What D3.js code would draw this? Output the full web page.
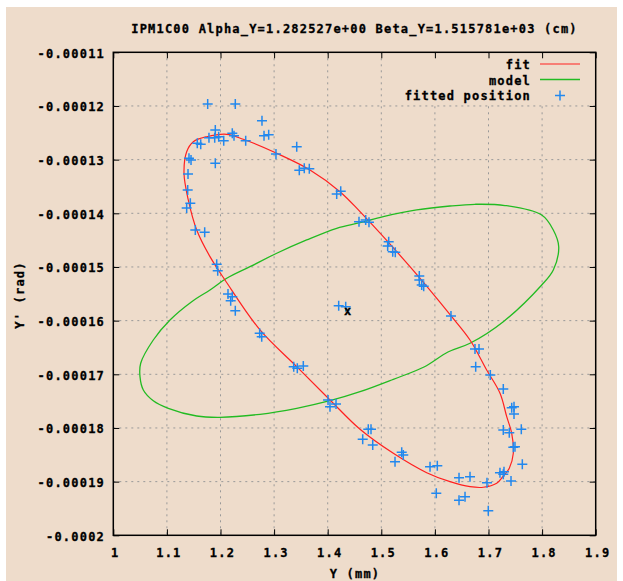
<!DOCTYPE html>
<html>
<head>
<meta charset="utf-8">
<script src="https://cdn.jsdelivr.net/npm/d3@7/dist/d3.min.js"></script>
<style>
  body { margin: 0; background: #fff; }
  text { font-family: "DejaVu Sans Mono", monospace; font-weight: bold; font-size: 12px; letter-spacing: 1.2px; fill: #000; stroke: #000; stroke-width: 0.3px; }
  .grid line { stroke: #999; stroke-width: 1; stroke-dasharray: 2,4; }
  .ticks line { stroke: #000; stroke-width: 1; }
</style>
</head>
<body>
<div id="chart"></div>
<script>
// tick values and labels
const xTicks = [1, 1.1, 1.2, 1.3, 1.4, 1.5, 1.6, 1.7, 1.8, 1.9];
const xTickLabels = ["1", "1.1", "1.2", "1.3", "1.4", "1.5", "1.6", "1.7", "1.8", "1.9"];
const yTicks = [-0.0002, -0.00019, -0.00018, -0.00017, -0.00016, -0.00015, -0.00014, -0.00013, -0.00012, -0.00011];
const yTickLabels = ["-0.0002", "-0.00019", "-0.00018", "-0.00017", "-0.00016", "-0.00015", "-0.00014", "-0.00013", "-0.00012", "-0.00011"];

const title = "IPM1C00 Alpha_Y=1.282527e+00 Beta_Y=1.515781e+03 (cm)";
const legendLabels = ["fit", "model", "fitted position"];

// fit ellipse [Y (mm), Y' (rad)]
const fitCurve = [
  [1.1319, -1.3249e-4], [1.1369, -1.2852e-4], [1.1493, -1.2666e-4], [1.1743, -1.2573e-4],
  [1.2116, -1.2528e-4], [1.2425, -1.2621e-4], [1.3049, -1.2882e-4], [1.3670, -1.3193e-4],
  [1.4229, -1.3597e-4], [1.4603, -1.3970e-4], [1.5535, -1.4995e-4], [1.6313, -1.5926e-4],
  [1.6655, -1.6361e-4], [1.6966, -1.6920e-4], [1.7215, -1.7354e-4], [1.7340, -1.7790e-4],
  [1.7433, -1.8099e-4], [1.7463, -1.8472e-4], [1.7388, -1.8751e-4], [1.7271, -1.8904e-4],
  [1.7153, -1.9031e-4], [1.6903, -1.9105e-4], [1.6655, -1.9094e-4], [1.6282, -1.9001e-4],
  [1.5847, -1.8833e-4], [1.5224, -1.8472e-4], [1.4603, -1.8024e-4], [1.4043, -1.7478e-4],
  [1.3422, -1.6858e-4], [1.2737, -1.6174e-4], [1.2084, -1.5243e-4], [1.1804, -1.4808e-4],
  [1.1556, -1.4311e-4], [1.1399, -1.3752e-4]
];

// model ellipse
const modelCurve = [
  [1.4603, -1.4175e-4], [1.5037, -1.4063e-4], [1.5660, -1.3938e-4], [1.6282, -1.3864e-4],
  [1.6748, -1.3832e-4], [1.7308, -1.3855e-4], [1.7993, -1.4032e-4], [1.8209, -1.4311e-4],
  [1.8310, -1.4622e-4], [1.8209, -1.5056e-4], [1.7993, -1.5336e-4], [1.7276, -1.6020e-4],
  [1.6655, -1.6422e-4], [1.6244, -1.6584e-4], [1.5797, -1.6864e-4], [1.5224, -1.7093e-4],
  [1.4603, -1.7324e-4], [1.4043, -1.7492e-4], [1.3422, -1.7633e-4], [1.2737, -1.7745e-4],
  [1.1991, -1.7801e-4], [1.1556, -1.7777e-4], [1.1026, -1.7633e-4], [1.0746, -1.7492e-4],
  [1.0560, -1.7292e-4], [1.0498, -1.7044e-4], [1.0511, -1.6795e-4], [1.0746, -1.6361e-4],
  [1.1058, -1.5988e-4], [1.1463, -1.5647e-4], [1.1804, -1.5429e-4], [1.2116, -1.5211e-4],
  [1.2550, -1.4995e-4], [1.3049, -1.4745e-4], [1.3608, -1.4497e-4], [1.4168, -1.4279e-4]
];

// fitted positions
const posY = [
  1.1761, 1.2276, 1.2774, 1.1903, 1.2220, 1.2252, 1.1785, 1.1892, 1.1966, 1.2060,
  1.2812, 1.2899, 1.2470, 1.1567, 1.1631, 1.3422, 1.3035, 1.1412, 1.1450, 1.1903,
  1.3470, 1.3563, 1.3657, 1.1394, 1.4168, 1.4243, 1.1388, 1.1437, 1.1369, 1.1530,
  1.1705, 1.1929, 1.1948, 1.4584, 1.4709, 1.4770, 1.5138, 1.5119, 1.5213, 1.5261,
  1.5709, 1.5709, 1.5754, 1.5791, 1.6300, 1.6748, 1.6823, 1.6761, 1.7034, 1.7276,
  1.7433, 1.7476, 1.7476, 1.7276, 1.7388, 1.7612, 1.7463, 1.7494, 1.7631, 1.7214,
  1.7289, 1.7276, 1.7420, 1.6972, 1.6996, 1.6655, 1.6450, 1.6562, 1.6450, 1.6026,
  1.5909, 1.6045, 1.5381, 1.5410, 1.5256, 1.4757, 1.4808, 1.4653, 1.4840, 1.2140,
  1.2220, 1.2190, 1.2276, 1.2731, 1.2769, 1.3366, 1.3433, 1.3545, 1.4006, 1.4043,
  1.4155, 1.4205, 1.4336
];
const posYp = [
  -1.1963e-4, -1.1963e-4, -1.2274e-4, -1.2448e-4, -1.2509e-4, -1.2554e-4, -1.2591e-4, -1.2591e-4, -1.2573e-4, -1.2647e-4,
  -1.2554e-4, -1.2535e-4, -1.2647e-4, -1.2696e-4, -1.2714e-4, -1.2759e-4, -1.2895e-4, -1.2975e-4, -1.3007e-4, -1.3068e-4,
  -1.3199e-4, -1.3161e-4, -1.3169e-4, -1.3268e-4, -1.3640e-4, -1.3590e-4, -1.3566e-4, -1.3813e-4, -1.3901e-4, -1.4311e-4,
  -1.4354e-4, -1.4950e-4, -1.5069e-4, -1.4156e-4, -1.4125e-4, -1.4168e-4, -1.4529e-4, -1.4609e-4, -1.4715e-4, -1.4727e-4,
  -1.5168e-4, -1.5243e-4, -1.5336e-4, -1.5360e-4, -1.5913e-4, -1.6528e-4, -1.6528e-4, -1.6858e-4, -1.7013e-4, -1.7274e-4,
  -1.7622e-4, -1.7603e-4, -1.7739e-4, -1.8037e-4, -1.8088e-4, -1.8024e-4, -1.8360e-4, -1.8349e-4, -1.8677e-4, -1.8833e-4,
  -1.8814e-4, -1.8863e-4, -1.8988e-4, -1.9019e-4, -1.9541e-4, -1.8908e-4, -1.8926e-4, -1.9280e-4, -1.9347e-4, -1.9217e-4,
  -1.8721e-4, -1.8703e-4, -1.8453e-4, -1.8503e-4, -1.8628e-4, -1.8024e-4, -1.8024e-4, -1.8211e-4, -1.8317e-4, -1.5503e-4,
  -1.5554e-4, -1.5628e-4, -1.5815e-4, -1.6236e-4, -1.6299e-4, -1.6858e-4, -1.6888e-4, -1.6845e-4, -1.7478e-4, -1.7603e-4,
  -1.7553e-4, -1.5721e-4, -1.5740e-4
];

// beam centre marker
const centre = [1.4373, -1.5826e-4];

const W = 623, H = 581;
const bg = "#eedccb";
const pLeft = 113.3, pRight = 595.7, pTop = 52.3, pBottom = 535.3;

const svg = d3.select("#chart").append("svg")
  .attr("width", W).attr("height", H);

svg.append("rect")
  .attr("x", 6).attr("y", 7).attr("width", 611).attr("height", H - 7)
  .attr("fill", bg);

const x = d3.scaleLinear().domain([1, 1.9]).range([pLeft, pRight]);
const y = d3.scaleLinear().domain([-0.0002, -0.00011]).range([pBottom, pTop]);

// grid
const grid = svg.append("g").attr("class", "grid");
grid.selectAll(".gx").data(xTicks.slice(1, -1)).enter().append("line")
  .attr("x1", d => x(d)).attr("x2", d => x(d))
  .attr("y1", pTop).attr("y2", pBottom);
grid.selectAll(".gy").data(yTicks.slice(1, -1)).enter().append("line")
  .attr("x1", pLeft).attr("x2", pRight)
  .attr("y1", d => y(d)).attr("y2", d => y(d));

// opaque key box
svg.append("rect")
  .attr("x", 400).attr("y", pTop + 1).attr("width", pRight - 401).attr("height", 51)
  .attr("fill", bg);

// curves
const closed = d3.line().x(d => x(d[0])).y(d => y(d[1])).curve(d3.curveCatmullRomClosed);

svg.append("path").attr("d", closed(modelCurve))
  .attr("fill", "none").attr("stroke", "#22bb22").attr("stroke-width", 1.3);
svg.append("path").attr("d", closed(fitCurve))
  .attr("fill", "none").attr("stroke", "#ff2020").attr("stroke-width", 1.2);

// points
const plus = "M-5,0H5M0,-5V5";
svg.append("g").selectAll("path").data(d3.range(posY.length)).enter().append("path")
  .attr("transform", i => `translate(${x(posY[i])},${y(posYp[i])})`)
  .attr("d", plus)
  .attr("stroke", "#2288ee").attr("stroke-width", 1.5).attr("fill", "none");

svg.append("text")
  .attr("x", x(centre[0])).attr("y", y(centre[1]) + 4)
  .attr("text-anchor", "middle")
  .style("letter-spacing", "0px")
  .text("x");

// frame
svg.append("rect")
  .attr("x", pLeft).attr("y", pTop).attr("width", pRight - pLeft).attr("height", pBottom - pTop)
  .attr("fill", "none").attr("stroke", "#000").attr("stroke-width", 1.5);

// inward ticks on all four sides
const tk = 6;
function ticks(g) { g.select(".domain").remove(); g.attr("class", "ticks"); }
svg.append("g").attr("transform", `translate(0,${pBottom})`)
  .call(d3.axisBottom(x).tickValues(xTicks).tickSize(-tk).tickFormat("")).call(ticks);
svg.append("g").attr("transform", `translate(0,${pTop})`)
  .call(d3.axisTop(x).tickValues(xTicks).tickSize(-tk).tickFormat("")).call(ticks);
svg.append("g").attr("transform", `translate(${pLeft},0)`)
  .call(d3.axisLeft(y).tickValues(yTicks).tickSize(-tk).tickFormat("")).call(ticks);
svg.append("g").attr("transform", `translate(${pRight},0)`)
  .call(d3.axisRight(y).tickValues(yTicks).tickSize(-tk).tickFormat("")).call(ticks);

// tick labels
svg.append("g").selectAll("text").data(xTicks).enter().append("text")
  .attr("x", d => x(d) + 2).attr("y", pBottom + 21.5)
  .attr("text-anchor", "middle")
  .text((d, i) => xTickLabels[i]);
svg.append("g").selectAll("text").data(yTicks).enter().append("text")
  .attr("x", 105).attr("y", d => y(d) + 5.3)
  .attr("text-anchor", "end")
  .text((d, i) => yTickLabels[i]);

// titles
svg.append("text").attr("x", 354.5).attr("y", 33).attr("text-anchor", "middle").text(title);
svg.append("text").attr("x", 355).attr("y", 578).attr("text-anchor", "middle").text("Y (mm)");
svg.append("text")
  .attr("transform", "translate(24,295) rotate(-90)")
  .attr("text-anchor", "middle").text("Y' (rad)");

// key
const key = svg.append("g");
const keyY = [69, 84.5, 100];
key.selectAll("text").data(legendLabels).enter().append("text")
  .attr("x", 531).attr("y", (d, i) => keyY[i])
  .attr("text-anchor", "end").text(d => d);
key.append("line").attr("x1", 540).attr("x2", 580).attr("y1", keyY[0] - 5).attr("y2", keyY[0] - 5)
  .attr("stroke", "#ff2020").attr("stroke-width", 1.2);
key.append("line").attr("x1", 540).attr("x2", 580).attr("y1", keyY[1] - 5).attr("y2", keyY[1] - 5)
  .attr("stroke", "#22bb22").attr("stroke-width", 1.3);
key.append("path").attr("transform", `translate(560,${keyY[2] - 4.5})`).attr("d", plus)
  .attr("stroke", "#2288ee").attr("stroke-width", 1.5).attr("fill", "none");
</script>
</body>
</html>
